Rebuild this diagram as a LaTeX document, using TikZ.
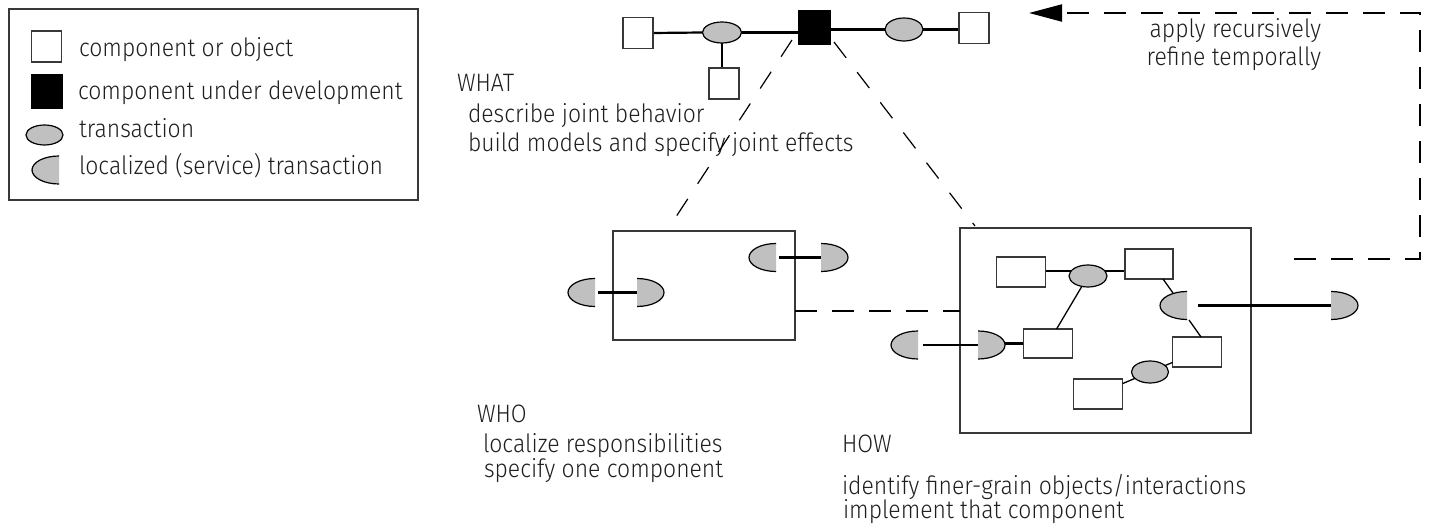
\documentclass[tikz,border=0pt]{standalone}
\usepackage{fontspec}
\setmainfont{Fira Sans}[UprightFont={* Light}, FakeStretch=0.91]
\usetikzlibrary{arrows.meta,backgrounds,shapes.geometric}
\definecolor{tgray}{HTML}{C0C0C0}
\definecolor{edgec}{HTML}{383838}
\definecolor{txtc}{HTML}{1E1E1E}
\begin{document}
\begin{tikzpicture}[x=1pt,y=-1pt,
  every node/.style={inner sep=0pt,outer sep=0pt},
  txt/.style={font=\fontsize{25.2}{30}\selectfont, text=txtc, anchor=base west},
  obj/.style={draw=edgec, line width=1.4pt, fill=white, minimum width=30, minimum height=31},
  devobj/.style={draw=black, line width=1.4pt, fill=black, minimum width=31, minimum height=33},
  sobj/.style={draw=edgec, line width=1.4pt, fill=white, minimum width=48, minimum height=30},
  ell/.style={ellipse, draw=black, line width=1.2pt, fill=tgray, minimum width=38, minimum height=22},
  bigbox/.style={draw=edgec, line width=1.4pt},
  conn/.style={draw=black, line width=2.2pt},
  thinconn/.style={draw=black, line width=1.3pt},
  diag/.style={draw=black, line width=1.2pt, dash pattern=on 20pt off 18pt},
  fb/.style={draw=black, line width=2pt, dash pattern=on 22pt off 15pt},
  halfL/.pic={
    \begin{scope}
      \clip (-40,-20) rectangle (0,20);
      \path[fill=tgray, draw=black, line width=1.2pt] (0,0) ellipse [x radius=27, y radius=14];
    \end{scope}
    \coordinate (-c) at (0,0);
  },
  halfR/.pic={
    \begin{scope}
      \clip (0,-20) rectangle (40,20);
      \path[fill=tgray, draw=black, line width=1.2pt] (0,0) ellipse [x radius=27, y radius=14];
    \end{scope}
    \coordinate (-c) at (0,0);
  }
]
\useasboundingbox (0,0) rectangle (1429,526);

% ---------- legend ----------
\node[bigbox, minimum width=409, minimum height=191] (legend) at (213.5,104.5) {};
\node[obj, minimum width=30, minimum height=31] (lgobj) at (46.5,46.5) {};
\node[devobj, minimum width=30, minimum height=33] (lgdev) at (47,91.5) {};
\node[ell, minimum width=37, minimum height=20] (lgell) at (44.5,135) {};
\pic (lghalf) at (59,170) {halfL};
\node[txt] (lt1) at (79,57) {component or object};
\node[txt] (lt2) at (78,100) {component under development};
\node[txt] (lt3) at (79,138) {transaction};
\node[txt] (lt4) at (79,175) {localized (service) transaction};

% ---------- top chain ----------
\node[obj] (s1) at (638,33) {};
\node[ell, minimum width=39, minimum height=21] (e1) at (722,32.5) {};
\node[devobj] (dev) at (814.5,27.5) {};
\node[ell, minimum width=38, minimum height=23] (e2) at (904,29.5) {};
\node[obj] (s2) at (974,28) {};
\node[obj] (s3) at (724,83.5) {};
\begin{scope}[on background layer]
  \draw[conn] (s1.east) -- (e1.west);
  \draw[conn] (e1.east) -- (e1.east -| dev.west);
  \draw[conn] (dev.east |- e2.west) -- (e2.west);
  \draw[conn] (e2.east) -- (e2.east -| s2.west);
  \draw[conn] (e1.south) -- (e1.south |- s3.north);
\end{scope}

% ---------- texts ----------
\node[txt] (what) at (457,92) {WHAT};
\node[txt] (what1) at (468,123) {describe joint behavior};
\node[txt] (what2) at (468,152) {build models and specify joint effects};
\node[txt] (who) at (477,422) {WHO};
\node[txt] (who1) at (483,452) {localize responsibilities};
\node[txt] (who2) at (484,477) {specify one component};
\node[txt] (how) at (842,452) {HOW};
\node[txt] (how1) at (842,494) {identify finer-grain objects/interactions};
\node[txt] (how2) at (843,518) {implement that component};
\node[txt, anchor=base east] (rec1) at (1321,38) {apply recursively};
\node[txt, anchor=base east] (rec2) at (1321,66) {refine temporally};

% ---------- WHO box ----------
\node[bigbox, minimum width=182, minimum height=109] (whobox) at (704,285.5) {};
\pic (wa) at (595,292.5) {halfL};
\pic (wb) at (637,292.5) {halfR};
\pic (wc) at (776,257.5) {halfL};
\pic (wd) at (821,257.5) {halfR};
\draw[conn] ([xshift=3]wa-c) -- (wb-c);
\draw[conn] ([xshift=3]wc-c) -- (wd-c);

% ---------- HOW box ----------
\node[bigbox, minimum width=291, minimum height=205] (howbox) at (1105.5,330.5) {};
\node[sobj, minimum width=49] (hA) at (1021,272) {};
\node[ell] (hE1) at (1088,276) {};
\node[sobj] (hB) at (1149,264) {};
\node[sobj, minimum width=49, minimum height=29] (hC) at (1048,343.5) {};
\node[sobj, minimum width=49] (hD) at (1197,352) {};
\node[ell, minimum width=37] (hE2) at (1150,372) {};
\node[sobj, minimum width=49] (hF) at (1098,394) {};
\pic (hH0) at (918,345) {halfL};
\pic (hH1) at (978,345) {halfR};
\pic (hH2) at (1187,305.5) {halfL};
\pic (hH3) at (1331,305.5) {halfR};
\begin{scope}[on background layer]
  \draw[conn] ([yshift=1]hA.center) -- ([yshift=-7]hB.center);
  \draw[conn] (hH1-c |- hC.west) -- (hC.west);
\end{scope}
\draw[conn] ([xshift=5]hH0-c) -- (hH1-c);
\draw[conn] ([xshift=11]hH2-c) -- (hH3-c);
\draw[thinconn] (hE1) -- (hC);
\draw[thinconn] ([xshift=14]hB.south) -- ([xshift=-14,yshift=12.5]hH2-c);
\draw[thinconn] ([xshift=2,yshift=-14.5]hH2-c) -- ([xshift=4]hD.north);
\draw[thinconn] (hE2) -- (hD);
\draw[thinconn] (hE2) -- (hF);

% ---------- dashed connectors ----------
\coordinate (whoend) at (668,229);
\coordinate (howend) at (975,226);
\draw[diag] ([xshift=-7,yshift=4]dev.south west) -- (whoend);
\draw[diag] ([xshift=4,yshift=2]dev.south east) -- (howend);
\draw[fb] ([yshift=-25.5]whobox.east) -- ([yshift=-25.5]whobox.east -| howbox.west);
\coordinate (fb0) at (1294,259);
\coordinate (fb1) at (1420,259);
\coordinate (fb2) at (1420,13);
\coordinate (fbend) at (1029,13);
\draw[fb, -{Triangle[length=33pt,width=17pt]}] (fb0) -- (fb1) -- (fb2) -- (fbend);
\end{tikzpicture}
\end{document}
